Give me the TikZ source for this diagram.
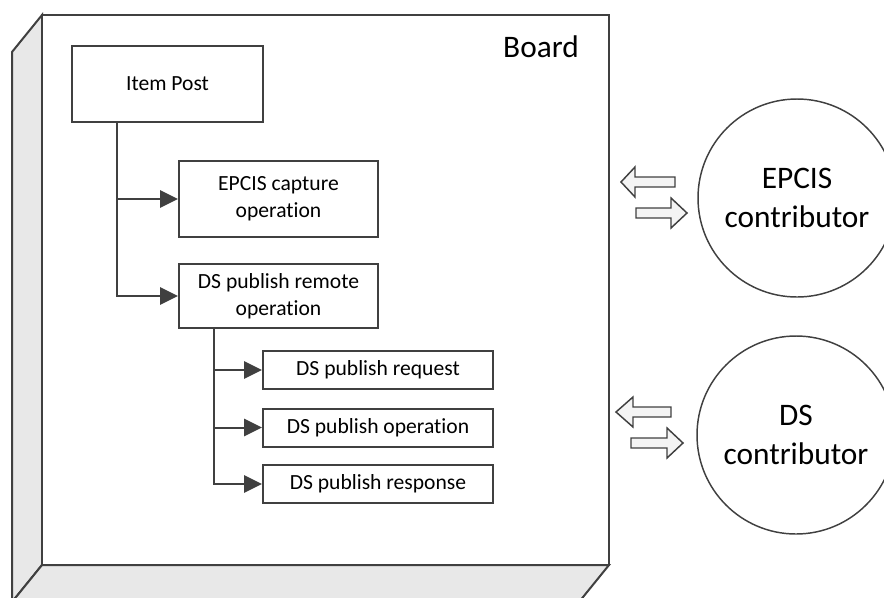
\documentclass[tikz,border=0pt]{standalone}
\usepackage{fontspec}
\setmainfont[Ligatures=NoCommon]{Carlito}
\usetikzlibrary{arrows.meta,calc}
\definecolor{edge}{HTML}{404040}
\definecolor{side}{HTML}{E8E8E8}
\definecolor{blockfill}{HTML}{F4F4F4}
\begin{document}
\begin{tikzpicture}[x=0.75pt,y=-0.75pt,
  box/.style={draw=edge,line width=1.5pt,fill=white,inner sep=0pt,align=center,
    font=\fontsize{16.2}{20}\selectfont},
  party/.style={draw=edge,line width=1.1pt,circle,inner sep=0pt,minimum size=148.5pt,
    align=center,font=\fontsize{23.5}{29}\selectfont},
  link/.style={draw=edge,line width=1.5pt,-{Triangle[length=13.5pt,width=13pt]}},
  flow/.style={draw=edge,line width=1.1pt,fill=blockfill,line join=miter}]
\useasboundingbox (0,0) rectangle (884,597);
\clip (0,0) rectangle (884,597);

% board: front face with the left and bottom sides of the slab
\draw[draw=edge,line width=1.5pt,fill=side,line join=miter] (42,15) -- (12,52) -- (12,602) -- (42,565) -- cycle;
\draw[draw=edge,line width=1.5pt,fill=side,line join=miter] (42,565) -- (609,565) -- (579,602) -- (12,602) -- cycle;
\draw[draw=edge,line width=1.5pt,fill=white] (42,15) rectangle (609,565);
\node[anchor=base east,font=\fontsize{23.5}{28}\selectfont,inner sep=0pt] (board) at (579,57) {Board};

% operations
\node[box,minimum width=143.25pt,minimum height=57pt] (post) at (167.5,84) {Item Post};
\node[box,minimum width=149.25pt,minimum height=57pt] (capture) at (278.5,199) {EPCIS capture\\operation};
\node[box,minimum width=149.25pt,minimum height=48pt] (remote) at (278.5,296) {DS publish remote\\operation};
\node[box,minimum width=172.5pt,minimum height=28.5pt] (request) at (378,370) {DS publish request};
\node[box,minimum width=172.5pt,minimum height=28.5pt] (pubop) at (378,427.5) {DS publish operation};
\node[box,minimum width=172.5pt,minimum height=28.5pt] (response) at (378,484) {DS publish response};

% branch points under the parent boxes
\coordinate (postfork) at ($(post.south west)+(46,0)$);
\coordinate (remotefork) at ($(remote.south west)+(36,0)$);

\draw[link] (postfork) |- (capture.west);
\draw[link] (postfork) |- (remote.west);
\draw[link] (remotefork) |- (request.west);
\draw[link] (remotefork) |- (pubop.west);
\draw[link] (remotefork) |- (response.west);

% external contributors
\node[party] (epcis) at (797,198) {EPCIS\\contributor};
\node[party] (ds) at (796,435) {DS\\contributor};

% exchange arrows
\draw[flow] (621,182) -- (635,167) -- (635,177) -- (675,177) -- (675,187) -- (635,187) -- (635,197) -- cycle;
\draw[flow] (636,208) -- (671,208) -- (671,198) -- (687,213) -- (671,228) -- (671,218) -- (636,218) -- cycle;
\draw[flow] (616,412) -- (633,397) -- (633,407) -- (671,407) -- (671,417) -- (633,417) -- (633,427) -- cycle;
\draw[flow] (631,438) -- (667,438) -- (667,428) -- (683,443) -- (667,458) -- (667,448) -- (631,448) -- cycle;
\end{tikzpicture}
\end{document}
